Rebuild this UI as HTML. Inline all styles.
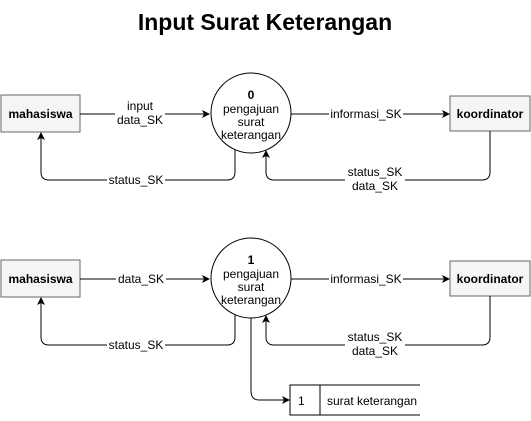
<!DOCTYPE html>
<html><head><style>
body{margin:0;background:#fff;width:531px;height:416px;overflow:hidden}
</style></head><body>
<svg width="531" height="416" viewBox="0 0 531 416" xmlns="http://www.w3.org/2000/svg" font-family="Liberation Sans, sans-serif" font-size="12">
<defs><marker id="a" markerWidth="8" markerHeight="8" refX="7" refY="4" orient="auto" markerUnits="userSpaceOnUse"><path d="M0,0 L8,4 L0,8 L2,4 z" fill="#000"/></marker></defs>
<text x="265" y="30" text-anchor="middle" font-size="23" font-weight="bold">Input Surat Keterangan</text>
<g id="top">
<rect x="1" y="95" width="79" height="37" fill="#f5f5f5" stroke="#666"/>
<text x="40.5" y="118" text-anchor="middle" font-weight="bold">mahasiswa</text>
<rect x="450" y="96" width="80" height="35" fill="#f5f5f5" stroke="#666"/>
<text x="490" y="118" text-anchor="middle" font-weight="bold">koordinator</text>
<circle cx="251" cy="113" r="40" fill="#fff" stroke="#000"/>
<text x="251" y="99" text-anchor="middle" font-weight="bold">0</text>
<text x="251" y="113" text-anchor="middle">pengajuan</text>
<text x="251" y="126" text-anchor="middle">surat</text>
<text x="251" y="139" text-anchor="middle">keterangan</text>
<path d="M80,114 H209" stroke="#000" fill="none" marker-end="url(#a)"/>
<rect x="115" y="98" width="50" height="28" fill="#fff"/>
<text x="140" y="110" text-anchor="middle">input</text>
<text x="140" y="124" text-anchor="middle">data_SK</text>
<path d="M291,114 H449" stroke="#000" fill="none" marker-end="url(#a)"/>
<rect x="329" y="106" width="74" height="14" fill="#fff"/>
<text x="366" y="118" text-anchor="middle">informasi_SK</text>
<path d="M235,150 V172 Q235,180 227,180 H49 Q41,180 41,172 V133" stroke="#000" fill="none" marker-end="url(#a)"/>
<rect x="107" y="173" width="58" height="14" fill="#fff"/>
<text x="136" y="184" text-anchor="middle">status_SK</text>
<path d="M490,131 V172 Q490,180 482,180 H274 Q266,180 266,172 V151" stroke="#000" fill="none" marker-end="url(#a)"/>
<rect x="345" y="165" width="60" height="28" fill="#fff"/>
<text x="375" y="176" text-anchor="middle">status_SK</text>
<text x="375" y="190" text-anchor="middle">data_SK</text>
</g>
<g transform="translate(0,165)">
<rect x="1" y="95" width="79" height="37" fill="#f5f5f5" stroke="#666"/>
<text x="40.5" y="118" text-anchor="middle" font-weight="bold">mahasiswa</text>
<rect x="450" y="96" width="80" height="35" fill="#f5f5f5" stroke="#666"/>
<text x="490" y="118" text-anchor="middle" font-weight="bold">koordinator</text>
<circle cx="251" cy="113" r="40" fill="#fff" stroke="#000"/>
<text x="251" y="99" text-anchor="middle" font-weight="bold">1</text>
<text x="251" y="113" text-anchor="middle">pengajuan</text>
<text x="251" y="126" text-anchor="middle">surat</text>
<text x="251" y="139" text-anchor="middle">keterangan</text>
<path d="M80,114 H209" stroke="#000" fill="none" marker-end="url(#a)"/>
<rect x="116" y="106" width="50" height="14" fill="#fff"/>
<text x="141" y="118" text-anchor="middle">data_SK</text>
<path d="M291,114 H449" stroke="#000" fill="none" marker-end="url(#a)"/>
<rect x="329" y="106" width="74" height="14" fill="#fff"/>
<text x="366" y="118" text-anchor="middle">informasi_SK</text>
<path d="M235,150 V172 Q235,180 227,180 H49 Q41,180 41,172 V133" stroke="#000" fill="none" marker-end="url(#a)"/>
<rect x="107" y="173" width="58" height="14" fill="#fff"/>
<text x="136" y="184" text-anchor="middle">status_SK</text>
<path d="M490,131 V172 Q490,180 482,180 H274 Q266,180 266,172 V151" stroke="#000" fill="none" marker-end="url(#a)"/>
<rect x="345" y="165" width="60" height="28" fill="#fff"/>
<text x="375" y="176" text-anchor="middle">status_SK</text>
<text x="375" y="190" text-anchor="middle">data_SK</text>
<path d="M251,153 V226 Q251,235 259,235 H289" stroke="#000" fill="none" marker-end="url(#a)"/>
</g>
<path d="M420,385 H290 V415 H420 M320,385 V415" stroke="#000" fill="none"/>
<text x="298" y="405">1</text>
<text x="327" y="405">surat keterangan</text>
</svg>
</body></html>
